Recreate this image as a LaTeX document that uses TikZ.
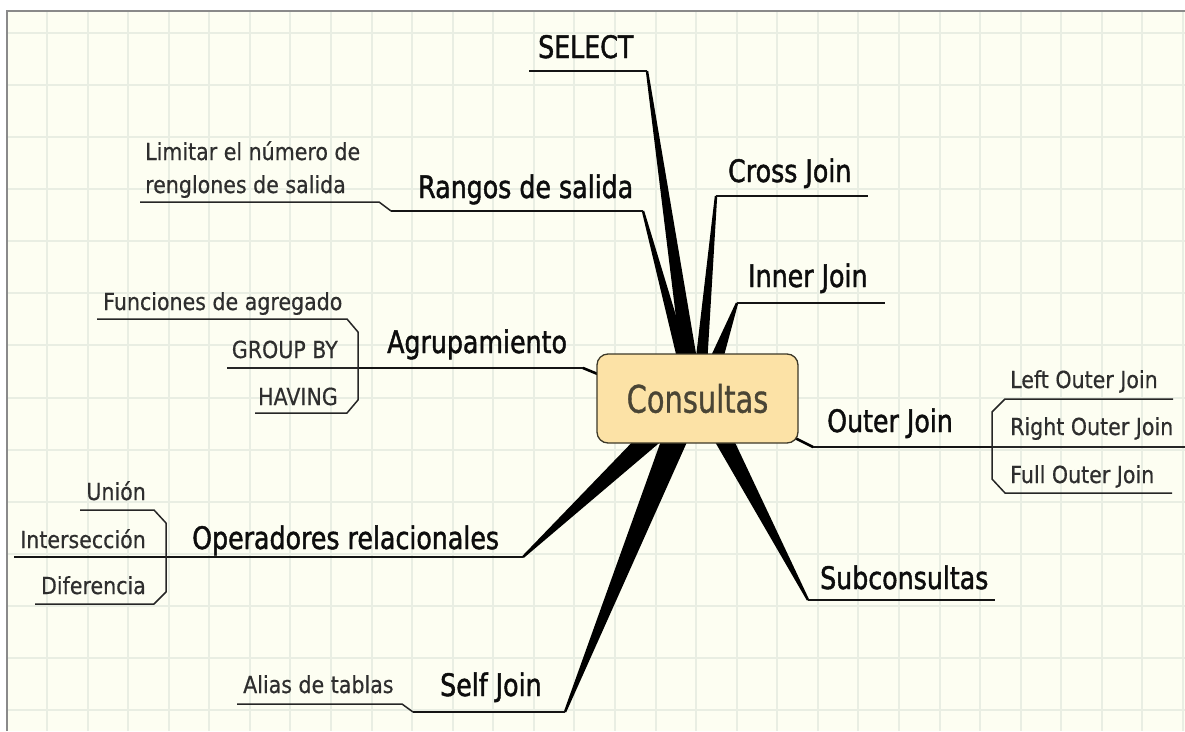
\documentclass[tikz,border=0pt]{standalone}
\usepackage{fontspec}
\setmainfont{DejaVu Sans}[FakeStretch=0.88]
\newfontfamily\brfont{DejaVu Sans}[FakeStretch=0.815, FakeBold=1.4]
\newfontfamily\sbfont{DejaVu Sans}[FakeStretch=0.875, FakeBold=0.5]
\newfontfamily\mnfont{DejaVu Sans}[FakeStretch=0.76, FakeBold=0.8]
\usetikzlibrary{calc}
\definecolor{paper}{HTML}{FDFEF2}
\definecolor{gridc}{HTML}{E9EEE3}
\definecolor{framec}{HTML}{8A8A8A}
\definecolor{boxfill}{HTML}{FCE2A6}
\definecolor{boxline}{HTML}{3C3828}
\definecolor{boxtext}{HTML}{4A4535}
\definecolor{subtext}{HTML}{2E2E2E}
\newcommand\spokewedge[3]{\fill[black] ($(#2)!#3!90:(#1)$) -- ($(#1)!1.2pt!-90:(#2)$) -- ($(#1)!1.2pt!90:(#2)$) -- ($(#2)!#3!-90:(#1)$) -- cycle;}
\tikzset{
  mainlbl/.style={font=\mnfont\fontsize{38}{40}\selectfont, text=boxtext},
  branch/.style={anchor=base west, inner sep=0pt, font=\brfont\fontsize{31}{33}\selectfont, text=black!95},
  sub/.style={anchor=base west, inner sep=0pt, font=\sbfont\fontsize{23.5}{25}\selectfont, text=subtext},
  subr/.style={sub, anchor=base east},
  bline/.style={line width=1.9pt, draw=black!92, line join=round},
  sline/.style={line width=1.5pt, draw=black!85, line join=round},
  link/.style={line width=2.6pt, draw=black, line cap=round},
}
\begin{document}
\begin{tikzpicture}[x=1pt,y=-1pt]
\useasboundingbox (0,0) rectangle (1185,731);
% paper and grid
\fill[white] (0,0) rectangle (1185,731);
\fill[paper] (7,11) rectangle (1185,731);
\begin{scope}
\clip (7,11) rectangle (1185,731);
\foreach \k in {1,...,29} \draw[gridc, line width=2pt] ({6.43+40.57*\k},11) -- ({6.43+40.57*\k},731);
\foreach \k in {0,...,13} \draw[gridc, line width=2pt] (7,{33+52.08*\k}) -- (1185,{33+52.08*\k});
\end{scope}
\draw[framec, line width=2pt] (7,731) -- (7,11) -- (1185,11);

% ---------- coordinates ----------
% SELECT
\coordinate (selL) at (529,71); \coordinate (selR) at (647,71);
% Rangos de salida
\coordinate (rgA) at (140,202); \coordinate (rgB) at (379,202);
\coordinate (rgC) at (391,211); \coordinate (rgD) at (643,211);
% Cross Join
\coordinate (crL) at (716,196); \coordinate (crR) at (868,196);
% Inner Join
\coordinate (inL) at (737,303); \coordinate (inR) at (885,303);
% Agrupamiento
\coordinate (fuA) at (97,319); \coordinate (fuB) at (347,319);
\coordinate (agT) at (358,332); \coordinate (agM) at (358,368); \coordinate (agB) at (358,400);
\coordinate (haB) at (347,413); \coordinate (haA) at (255,413);
\coordinate (gbA) at (227,368); \coordinate (agE) at (583,368); \coordinate (agX) at (600,375);
% Outer Join
\coordinate (ouX) at (793,437); \coordinate (ouA) at (813,447); \coordinate (ouM) at (992,447);
\coordinate (roE) at (1185,447);
\coordinate (loE) at (1173,399); \coordinate (loA) at (1005,399); \coordinate (ouT) at (992,412);
\coordinate (ouB) at (992,479); \coordinate (foA) at (1005,493); \coordinate (foE) at (1172,493);
% Operadores relacionales
\coordinate (opE) at (523,557); \coordinate (opM) at (166,557); \coordinate (inA) at (14,557);
\coordinate (unA) at (80,510); \coordinate (unB) at (154,510); \coordinate (opT) at (166,523);
\coordinate (opB) at (166,592); \coordinate (diB) at (154,604); \coordinate (diA) at (35,604);
% Self Join
\coordinate (alA) at (237,704); \coordinate (alB) at (402,704);
\coordinate (sjA) at (413,712); \coordinate (sjE) at (565,712);
% Subconsultas
\coordinate (scL) at (808,600); \coordinate (scR) at (995,600);
% spoke bases (inside the central box)
\coordinate (bSel) at (690,366); \coordinate (bRg) at (685,366);
\coordinate (bCr) at (701,366); \coordinate (bIn) at (714,366);
\coordinate (bOp) at (652,436); \coordinate (bSj) at (676,436); \coordinate (bSc) at (722,436);

% ---------- spokes ----------
\spokewedge{selR}{bSel}{8pt}
\spokewedge{rgD}{bRg}{6pt}
\spokewedge{crL}{bCr}{6pt}
\spokewedge{inL}{bIn}{7pt}
\spokewedge{opE}{bOp}{10pt}
\spokewedge{sjE}{bSj}{12.5pt}
\spokewedge{scL}{bSc}{9pt}
\draw[link] (agE) -- (agX);
\draw[link] (ouX) -- (ouA);

% ---------- central node ----------
\node[draw=boxline, fill=boxfill, rounded corners=11pt, line width=1.3pt,
      minimum width=201pt, minimum height=89pt, mainlbl] (c) at (697.5,398.5) {Consultas};

% ---------- branch lines ----------
\draw[bline] (selL) -- (selR);
\draw[bline] (rgC) -- (rgD);
\draw[bline] (crL) -- (crR);
\draw[bline] (inL) -- (inR);
\draw[bline] (agM) -- (agE);
\draw[bline] (ouA) -- (ouM);
\draw[bline] (inA) -- (opE);
\draw[bline] (sjA) -- (sjE);
\draw[bline] (scL) -- (scR);

% ---------- sub lines ----------
\draw[sline] (rgA) -- (rgB) -- (rgC);
\draw[sline] (fuA) -- (fuB) -- (agT) -- (agB) -- (haB) -- (haA);
\draw[sline] (gbA) -- (agM);
\draw[sline] (ouM) -- (roE);
\draw[sline] (loE) -- (loA) -- (ouT) -- (ouB) -- (foA) -- (foE);
\draw[sline] (unA) -- (unB) -- (opT) -- (opB) -- (diB) -- (diA);
\draw[sline] (alA) -- (alB) -- (sjA);

% ---------- labels ----------
\node[branch] (tSel) at (538,58) {SELECT};
\node[branch] (tRg) at (418,198) {Rangos de salida};
\node[branch] (tCr) at (728,182) {Cross Join};
\node[branch] (tIn) at (748,287) {Inner Join};
\node[branch] (tAg) at (387,353) {Agrupamiento};
\node[branch] (tOu) at (827,432) {Outer Join};
\node[branch] (tOp) at (192,549) {Operadores relacionales};
\node[branch] (tSj) at (440,696) {Self Join};
\node[branch] (tSc) at (820,589) {Subconsultas};

\node[sub] (sLim1) at (145,160) {Limitar el número de};
\node[sub] (sLim2) at (145,193) {renglones de salida};
\node[sub] (sFun) at (103,310) {Funciones de agregado};
\node[subr] (sGb) at (338,358) {GROUP BY};
\node[subr] (sHa) at (338,405) {HAVING};
\node[sub] (sLo) at (1010,388) {Left Outer Join};
\node[sub] (sRo) at (1010,435) {Right Outer Join};
\node[sub] (sFo) at (1010,483) {Full Outer Join};
\node[subr] (sUn) at (146,500) {Unión};
\node[subr] (sIn) at (146,548) {Intersección};
\node[subr] (sDi) at (146,594) {Diferencia};
\node[sub] (sAl) at (243,693) {Alias de tablas};
\end{tikzpicture}
\end{document}
